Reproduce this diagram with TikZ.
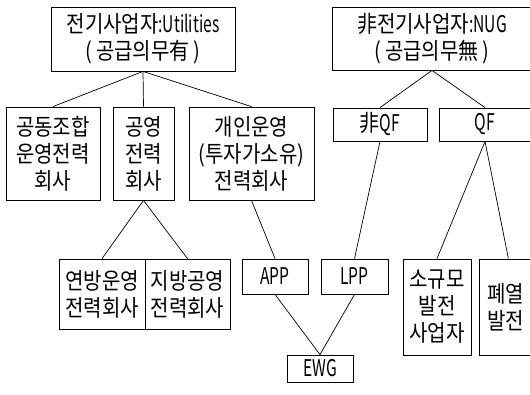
\documentclass[tikz,border=0pt]{standalone}
\usepackage{fontspec}
\setmainfont[FakeStretch=0.87]{Noto Sans CJK KR}
\newfontfamily\latn[FakeStretch=0.68]{Noto Sans CJK KR}
\usetikzlibrary{positioning}
\begin{document}
\begin{tikzpicture}[x=1pt,y=-1pt,
  box/.style={draw=black, line width=0.8pt, inner sep=1pt, align=center,
    font=\fontsize{23}{27}\selectfont},
  link/.style={draw=black, line width=0.7pt}]
\useasboundingbox (0,0) rectangle (530,394);
\clip (0,0) rectangle (530,394);
% top level
\node[box, minimum width=184, minimum height=64] (U) at (143,39) {전기사업자{\latn :Utilities}\\(\,공급의무有\,)};
\node[box, minimum width=200, minimum height=63] (N) at (432,38.5) {非전기사업자{\latn :NUG}\\(\,공급의무無\,)};
% second level
\node[box, minimum width=94, minimum height=93] (A1) at (53,153.5) {공동조합\\운영전력\\회사};
\node[box, minimum width=61, minimum height=93] (A2) at (143.5,153.5) {공영\\전력\\회사};
\node[box, minimum width=125, minimum height=93] (A3) at (251.5,153.5) {개인운영\\(투자가소유)\\전력회사};
\node[box, minimum width=94, minimum height=33] (NQF) at (380,124.5) {非{\latn QF}};
\node[box, minimum width=92, minimum height=33] (QF) at (485,124.5) {{\latn QF}};
% third level
\node[box, minimum width=86, minimum height=70] (B1) at (102,294) {연방운영\\전력회사};
\node[box, minimum width=85, minimum height=70] (B2) at (187.5,294) {지방공영\\전력회사};
\node[box, minimum width=66, minimum height=35] (APP) at (275,276.5) {{\latn APP}};
\node[box, minimum width=67, minimum height=35] (LPP) at (354.5,276.5) {{\latn LPP}};
\node[box, minimum width=68, minimum height=96] (S) at (437,307) {소규모\\발전\\사업자};
\node[box, anchor=west, minimum height=96, text width=42, inner xsep=8, align=left] (P) at (479,307) {폐열\\발전};
\node[box, minimum width=66, minimum height=27] (EWG) at (320,368.5) {{\latn EWG}};
% connectors
\draw[link] (U.south) -- (A1.north);
\draw[link] (U.south) -- (A2.north);
\draw[link] (U.south) -- (A3.north);
\draw[link] (N.south) -- (NQF.north);
\draw[link] (N.south) -- (QF.north);
\draw[link] (A2.south) -- (B1.north);
\draw[link] (A2.south) -- (B2.north);
\draw[link] (A3.south) -- (APP.north);
\draw[link] (NQF.south) -- (LPP.north);
\draw[link] (QF.south) -- (S.north);
\draw[link] (QF.south) -- (P.north);
\draw[link] (APP.south) -- (EWG.north);
\draw[link] (LPP.south) -- (EWG.north);
\end{tikzpicture}
\end{document}
